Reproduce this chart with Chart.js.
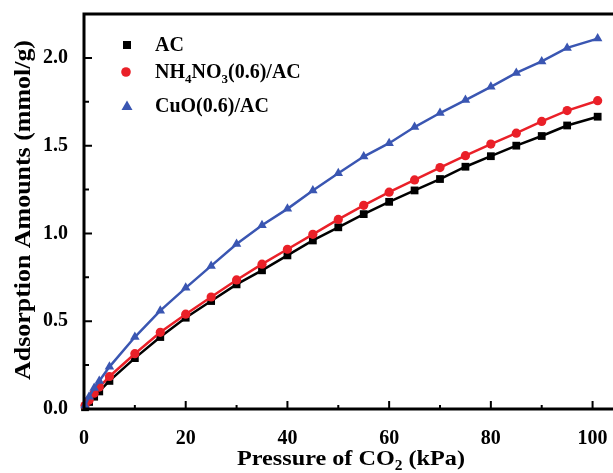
<!DOCTYPE html>
<html>
<head>
<meta charset="utf-8">
<script src="https://cdn.jsdelivr.net/npm/chart.js@4.4.1/dist/chart.umd.min.js"></script>
<style>
  html, body { margin: 0; padding: 0; background: #fff; overflow: hidden; }
  #wrap { width: 613px; height: 473px; overflow: hidden; }
</style>
</head>
<body>
<div id="wrap"><canvas id="chart" width="650" height="473"></canvas></div>
<script>
// CO2 pressure (kPa)
const pressure = [0.2, 1, 2, 3, 5, 10, 15, 20, 25, 30, 35, 40, 45, 50, 55, 60, 65, 70, 75, 80, 85, 90, 95, 101];

// adsorbed amount (mmol/g)
const acValues = [0.01, 0.04, 0.07, 0.10, 0.16, 0.29, 0.41, 0.52, 0.615, 0.71, 0.79, 0.875, 0.96, 1.035, 1.11, 1.18, 1.245, 1.31, 1.38, 1.44, 1.50, 1.555, 1.615, 1.665];
const nhValues = [0.02, 0.05, 0.09, 0.125, 0.185, 0.315, 0.437, 0.54, 0.638, 0.735, 0.825, 0.91, 0.995, 1.08, 1.16, 1.235, 1.305, 1.375, 1.443, 1.509, 1.571, 1.638, 1.70, 1.756];
const cuoValues = [0.02, 0.07, 0.12, 0.16, 0.24, 0.41, 0.56, 0.69, 0.815, 0.94, 1.047, 1.14, 1.245, 1.343, 1.438, 1.514, 1.606, 1.686, 1.76, 1.835, 1.914, 1.98, 2.057, 2.11];

const xTicks = [0, 20, 40, 60, 80, 100];
const xMinorTicks = [10, 30, 50, 70, 90];
const yTicks = [0, 0.5, 1.0, 1.5, 2.0];
const yMinorTicks = [0.25, 0.75, 1.25, 1.75];

const seriesNames = ['AC', 'NH4NO3(0.6)/AC', 'CuO(0.6)/AC'];

const FONT = '"Liberation Serif", "Times New Roman", serif';
const RED = 'rgb(234, 32, 40)';
const BLUE = 'rgb(58, 86, 178)';

function toPoints(values) {
  return values.map((v, i) => ({ x: pressure[i], y: v }));
}

// parts starting with "_" are drawn as subscripts
function richWidth(ctx, parts, size) {
  let w = 0;
  parts.forEach((p) => {
    const sub = p.charAt(0) === '_';
    const text = sub ? p.slice(1) : p;
    ctx.font = 'bold ' + (sub ? Math.round(size * 0.65) : size) + 'px ' + FONT;
    w += ctx.measureText(text).width;
  });
  return w;
}

function drawRich(ctx, parts, x, y, size) {
  let cx = x;
  parts.forEach((p) => {
    const sub = p.charAt(0) === '_';
    const text = sub ? p.slice(1) : p;
    ctx.font = 'bold ' + (sub ? Math.round(size * 0.65) : size) + 'px ' + FONT;
    ctx.fillText(text, cx, sub ? y + size * 0.32 : y);
    cx += ctx.measureText(text).width;
  });
}

// centred rich text, stretched along its length to a given width
function drawStretched(ctx, parts, cx, cy, size, width) {
  const w = richWidth(ctx, parts, size);
  ctx.save();
  ctx.translate(cx, cy);
  ctx.scale(width / w, 1);
  drawRich(ctx, parts, -w / 2, 0, size);
  ctx.restore();
}

const framePlugin = {
  id: 'frame',
  afterDatasetsDraw(chart) {
    const ctx = chart.ctx;
    const area = chart.chartArea;
    const xs = chart.scales.x;
    const ys = chart.scales.y;

    ctx.save();
    ctx.strokeStyle = '#000';
    ctx.lineWidth = 3;
    ctx.strokeRect(area.left, area.top, area.right - area.left, area.bottom - area.top);

    ctx.lineWidth = 2;
    ctx.beginPath();
    xTicks.forEach((v) => {
      const px = xs.getPixelForValue(v);
      ctx.moveTo(px, area.bottom); ctx.lineTo(px, area.bottom - 8);
    });
    xMinorTicks.forEach((v) => {
      const px = xs.getPixelForValue(v);
      ctx.moveTo(px, area.bottom); ctx.lineTo(px, area.bottom - 4);
    });
    yTicks.forEach((v) => {
      const py = ys.getPixelForValue(v);
      ctx.moveTo(area.left, py); ctx.lineTo(area.left + 8, py);
    });
    yMinorTicks.forEach((v) => {
      const py = ys.getPixelForValue(v);
      ctx.moveTo(area.left, py); ctx.lineTo(area.left + 5, py);
    });
    ctx.stroke();

    // axis titles
    ctx.fillStyle = '#000';
    ctx.textBaseline = 'middle';
    ctx.textAlign = 'left';
    drawStretched(ctx, ['Pressure of CO', '_2', ' (kPa)'], 351, 459, 22, 228);

    ctx.save();
    ctx.translate(24, 210);
    ctx.rotate(-Math.PI / 2);
    drawStretched(ctx, ['Adsorption Amounts (mmol/g)'], 0, 0, 24, 340);
    ctx.restore();

    // legend
    const mx = 127;
    const rows = [45, 72, 106];
    ctx.fillStyle = '#000';
    ctx.fillRect(mx - 4, rows[0] - 4, 8, 8);
    ctx.fillStyle = RED;
    ctx.beginPath(); ctx.arc(mx - 1, rows[1], 4.8, 0, Math.PI * 2); ctx.fill();
    ctx.fillStyle = BLUE;
    ctx.beginPath();
    ctx.moveTo(mx, rows[2] - 5.5); ctx.lineTo(mx + 5.5, rows[2] + 4); ctx.lineTo(mx - 5.5, rows[2] + 4);
    ctx.closePath(); ctx.fill();

    ctx.fillStyle = '#000';
    drawRich(ctx, [seriesNames[0]], 155, rows[0] + 1, 20);
    drawRich(ctx, ['NH', '_4', 'NO', '_3', '(0.6)/AC'], 155, rows[1] + 1, 20);
    drawRich(ctx, [seriesNames[2]], 155, rows[2] + 1, 20);
    ctx.restore();
  }
};

function series(label, values, color, style, radius, order) {
  return {
    label: label,
    data: toPoints(values),
    borderColor: color,
    backgroundColor: color,
    pointBackgroundColor: color,
    pointBorderColor: color,
    pointStyle: style,
    pointRadius: radius,
    pointBorderWidth: 0,
    borderWidth: 2.5,
    tension: 0,
    order: order,
    clip: false
  };
}

const ctx = document.getElementById('chart').getContext('2d');

new Chart(ctx, {
  type: 'line',
  data: {
    datasets: [
      series(seriesNames[0], acValues, '#000', 'rect', 5.5, 2),
      series(seriesNames[1], nhValues, RED, 'circle', 4.6, 1),
      series(seriesNames[2], cuoValues, BLUE, 'triangle', 5.5, 0)
    ]
  },
  options: {
    responsive: false,
    animation: false,
    devicePixelRatio: 1,
    layout: { padding: { top: 14, right: 32, left: 0, bottom: 0 } },
    plugins: {
      legend: { display: false },
      tooltip: { enabled: false }
    },
    scales: {
      x: {
        type: 'linear',
        min: 0,
        max: 105,
        grid: { display: false },
        border: { display: false },
        afterBuildTicks: (scale) => { scale.ticks = xTicks.map((v) => ({ value: v })); },
        afterFit: (scale) => {
          scale.height = 64;
          scale.paddingLeft = 0;
          scale.paddingRight = 0;
        },
        ticks: {
          padding: 10,
          color: '#000',
          font: { family: FONT, size: 20, weight: 'bold' },
          callback: (v) => String(v)
        }
      },
      y: {
        type: 'linear',
        min: 0,
        max: 2.25,
        grid: { display: false },
        border: { display: false },
        afterBuildTicks: (scale) => { scale.ticks = yTicks.map((v) => ({ value: v })); },
        afterFit: (scale) => {
          scale.width = 84;
          scale.paddingTop = 0;
          scale.paddingBottom = 0;
        },
        ticks: {
          padding: 8,
          color: '#000',
          font: { family: FONT, size: 20, weight: 'bold' },
          callback: (v) => Number(v).toFixed(1)
        }
      }
    }
  },
  plugins: [framePlugin]
});
</script>
</body>
</html>
